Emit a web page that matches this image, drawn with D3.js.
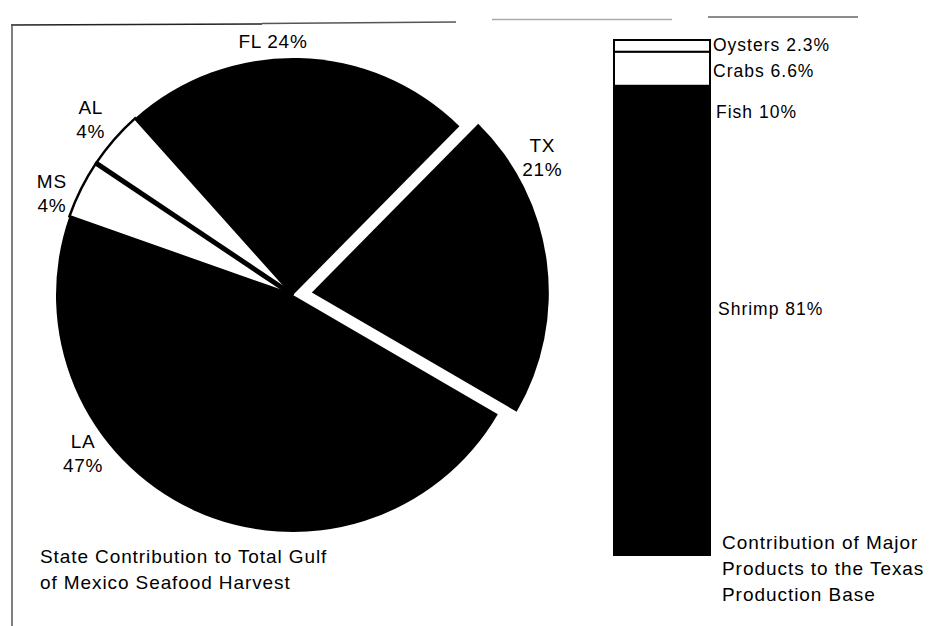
<!DOCTYPE html>
<html><head><meta charset="utf-8">
<script src="https://cdn.jsdelivr.net/npm/d3@7"></script>
<style>html,body{margin:0;padding:0;background:#fff;}svg{display:block;}</style>
</head><body>
<svg id="c" width="936" height="626"></svg>
<script>
// ---- data ----
const states = ["TX", "LA", "MS", "AL", "FL"];
const stateShares = [21, 47, 4, 4, 24];
const stateLabels = ["21%", "47%", "4%", "4%", "24%"];
const products = ["Oysters", "Crabs", "Fish", "Shrimp"];
const productShares = [2.3, 6.6, 10, 81];
const productLabels = ["Oysters 2.3%", "Crabs 6.6%", "Fish 10%", "Shrimp 81%"];
const pieTitle = ["State Contribution to Total Gulf", "of Mexico Seafood Harvest"];
const barTitle = ["Contribution of Major", "Products to the Texas", "Production Base"];

// ---- layout / style ----
const svg = d3.select("#c");
const font = "'Liberation Sans', Arial, Helvetica, sans-serif";
const cx = 293, cy = 295, R = 237;
const deg = Math.PI / 180;
const fills = {TX: "#000", LA: "#000", MS: "#fff", AL: "#fff", FL: "#000"};
const explode = {TX: 19};
// label placement (angle in degrees clockwise from 12 o'clock, radius)
const labelPos = {
  FL: {a: -4.5, r: 255, inline: true},
  TX: {a: 61, r: 285},
  AL: {a: -49, r: 268},
  MS: {a: -67, r: 262},
  LA: {a: -127, r: 263}
};

// frame artifacts of the scanned page
const frame = [
  {x1: 11, x2: 262, y1: 25, y2: 24, c: "#222"},
  {x1: 262, x2: 456, y1: 23.5, y2: 22, c: "#555"},
  {x1: 492, x2: 672, y1: 19.5, y2: 19.5, c: "#aaa"},
  {x1: 708, x2: 858, y1: 17, y2: 17, c: "#666"},
  {x1: 12, x2: 12, y1: 25, y2: 626, c: "#555"}
];
svg.append("g").selectAll("line").data(frame).join("line")
  .attr("x1", d => d.x1).attr("x2", d => d.x2).attr("y1", d => d.y1).attr("y2", d => d.y2)
  .attr("stroke", d => d.c).attr("stroke-width", 1.5);

// ---- pie ----
const pie = d3.pie().sort(null).value(d => d.v)
  .startAngle(44.6 * deg).endAngle(44.6 * deg + 2 * Math.PI);
const arcs = pie(states.map((s, i) => ({s, v: stateShares[i], lab: stateLabels[i]})));
const arc = d3.arc().innerRadius(0).outerRadius(R);
const g = svg.append("g").attr("transform", `translate(${cx},${cy})`);

// black slices first
arcs.filter(d => fills[d.data.s] === "#000").forEach(d => {
  const off = explode[d.data.s] || 0;
  const mid = (d.startAngle + d.endAngle) / 2;
  g.append("path").attr("d", arc(d))
    .attr("transform", `translate(${off * Math.sin(mid)},${-off * Math.cos(mid)})`)
    .attr("fill", "#000");
});
// white slices with black outline
const whites = arcs.filter(d => fills[d.data.s] === "#fff");
whites.forEach(d => {
  g.append("path").attr("d", arc(d))
    .attr("fill", "#fff").attr("stroke", "#000").attr("stroke-width", 2.5)
    .attr("stroke-linejoin", "miter");
});
// thick separator between the two white slices
whites.slice(1).forEach(d => {
  const a = d.startAngle;
  g.append("line").attr("x1", 0).attr("y1", 0)
    .attr("x2", R * Math.sin(a)).attr("y2", -R * Math.cos(a))
    .attr("stroke", "#000").attr("stroke-width", 5);
});

// pie labels
arcs.forEach(d => {
  const p = labelPos[d.data.s];
  const x = cx + p.r * Math.sin(p.a * deg);
  const y = cy - p.r * Math.cos(p.a * deg);
  const t = svg.append("text").attr("x", x).attr("y", y)
    .attr("text-anchor", "middle").attr("font-family", font)
    .attr("font-size", 19).attr("letter-spacing", 0.7).attr("fill", "#000");
  if (p.inline) {
    t.attr("dy", 7).text(d.data.s + " " + d.data.lab);
  } else {
    t.append("tspan").attr("x", x).attr("dy", -5).text(d.data.s);
    t.append("tspan").attr("x", x).attr("dy", 24).text(d.data.lab);
  }
});

// pie title
const pt = svg.append("text").attr("font-family", font).attr("font-size", 19)
  .attr("letter-spacing", 0.9).attr("fill", "#000");
pieTitle.forEach((l, i) => pt.append("tspan").attr("x", 40).attr("y", 563 + i * 26).text(l));

// ---- stacked bar ----
const barX = 614, barW = 96;
const total = d3.sum(productShares);
const y = d3.scaleLinear().domain([0, total]).range([40, 555]);
const barFill = ["#fff", "#fff", "#000", "#000"];
let acc = 0;
const segs = products.map((p, i) => {
  const s = {p, lab: productLabels[i], y0: acc, y1: acc + productShares[i], fill: barFill[i]};
  acc += productShares[i];
  return s;
});
svg.append("g").selectAll("rect").data(segs).join("rect")
  .attr("x", barX).attr("width", barW)
  .attr("y", d => y(d.y0)).attr("height", d => y(d.y1) - y(d.y0))
  .attr("fill", d => d.fill).attr("stroke", "#000").attr("stroke-width", 2);

// bar labels
const labY = [51, 77, 118, 315];
const labX = [713, 713, 716, 718];
svg.append("g").selectAll("text").data(segs).join("text")
  .attr("x", (d, i) => labX[i]).attr("y", (d, i) => labY[i])
  .attr("font-family", font).attr("font-size", 17.5).attr("letter-spacing", 1)
  .attr("fill", "#000").text(d => d.lab);

// bar title
const bt = svg.append("text").attr("font-family", font).attr("font-size", 19)
  .attr("letter-spacing", 0.95).attr("fill", "#000");
barTitle.forEach((l, i) => bt.append("tspan").attr("x", 722).attr("y", 549 + i * 26).text(l));
</script>
</body></html>
